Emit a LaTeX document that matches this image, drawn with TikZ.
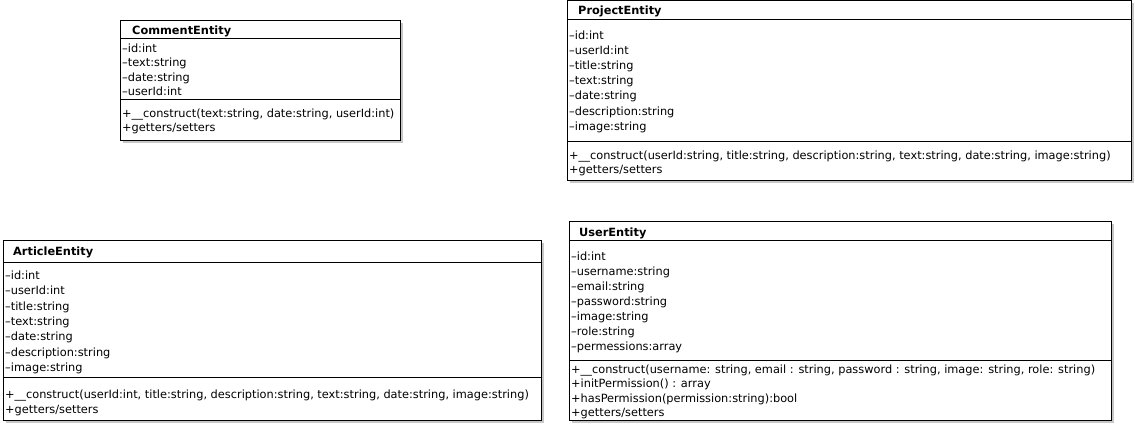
\documentclass[tikz,border=0pt]{standalone}
\usepackage{fontspec}
\setmainfont{DejaVu Sans}
\begin{document}
\begin{tikzpicture}[x=1pt,y=-1pt,
  box/.style={draw=black, line width=0.8pt, fill=white},
  sep/.style={draw=black, line width=0.8pt},
  shadowbox/.style={fill=black!22, draw=none},
  txt/.style={anchor=base west, inner sep=0pt, yshift=-1.3pt, font=\fontsize{11.35}{12}\selectfont},
  hdr/.style={anchor=base west, inner sep=0pt, yshift=-1pt, font=\fontsize{11.35}{12}\selectfont\bfseries}]
\useasboundingbox[fill=white] (0,0) rectangle (1135,425);

% CommentEntity
\fill[shadowbox] (123,23) rectangle (403,143);
\draw[box] (120,20) rectangle (400,140);
\draw[sep] (120,38) -- (400,38);
\draw[sep] (120,99) -- (400,99);
\node[hdr] (cH) at (132,34) {CommentEntity};
\node[txt] (c1) at (122,51) {–id:int};
\node[txt] (c2) at (122,65.5) {–text:string};
\node[txt] (c3) at (122,80) {–date:string};
\node[txt] (c4) at (122,94.5) {–userId:int};
\node[txt] (c5) at (122,116) {+\_\_construct(text:string, date:string, userId:int)};
\node[txt] (c6) at (122,130.5) {+getters/setters};

% ProjectEntity
\fill[shadowbox] (570,3) rectangle (1134,183);
\draw[box] (567,0.5) rectangle (1131,180);
\draw[sep] (567,19) -- (1131,19);
\draw[sep] (567,141) -- (1131,141);
\node[hdr] (pH) at (578,14) {ProjectEntity};
\node[txt] (p1) at (569,38) {–id:int};
\node[txt] (p2) at (569,53) {–userId:int};
\node[txt] (p3) at (569,68) {–title:string};
\node[txt] (p4) at (569,83) {–text:string};
\node[txt] (p5) at (569,98) {–date:string};
\node[txt] (p6) at (569,114) {–description:string};
\node[txt] (p7) at (569,129) {–image:string};
\node[txt] (p8) at (569,158) {+\_\_construct(userId:string, title:string, description:string, text:string, date:string, image:string)};
\node[txt] (p9) at (569,172) {+getters/setters};

% ArticleEntity
\fill[shadowbox] (6,243) rectangle (544,423);
\draw[box] (3,240) rectangle (541,420);
\draw[sep] (3,262) -- (541,262);
\draw[sep] (3,377) -- (541,377);
\node[hdr] (aH) at (13,254) {ArticleEntity};
\node[txt] (a1) at (5,278) {–id:int};
\node[txt] (a2) at (5,293) {–userId:int};
\node[txt] (a3) at (5,309) {–title:string};
\node[txt] (a4) at (5,324) {–text:string};
\node[txt] (a5) at (5,339) {–date:string};
\node[txt] (a6) at (5,355) {–description:string};
\node[txt] (a7) at (5,370) {–image:string};
\node[txt] (a8) at (5,397) {+\_\_construct(userId:int, title:string, description:string, text:string, date:string, image:string)};
\node[txt] (a9) at (5,412) {+getters/setters};

% UserEntity
\fill[shadowbox] (572,224) rectangle (1114,423);
\draw[box] (569,221) rectangle (1111,420);
\draw[sep] (569,240) -- (1111,240);
\draw[sep] (569,360) -- (1111,360);
\node[hdr] (uH) at (579,235) {UserEntity};
\node[txt] (u1) at (571,259) {–id:int};
\node[txt] (u2) at (571,274) {–username:string};
\node[txt] (u3) at (571,289) {–email:string};
\node[txt] (u4) at (571,304) {–password:string};
\node[txt] (u5) at (571,319) {–image:string};
\node[txt] (u6) at (571,334) {–role:string};
\node[txt] (u7) at (571,349) {–permessions:array};
\node[txt] (u8) at (571,372) {+\_\_construct(username: string, email : string, password : string, image: string, role: string)};
\node[txt] (u9) at (571,386.5) {+initPermission() : array};
\node[txt] (u10) at (571,401) {+hasPermission(permission:string):bool};
\node[txt] (u11) at (571,415.5) {+getters/setters};
\end{tikzpicture}
\end{document}
